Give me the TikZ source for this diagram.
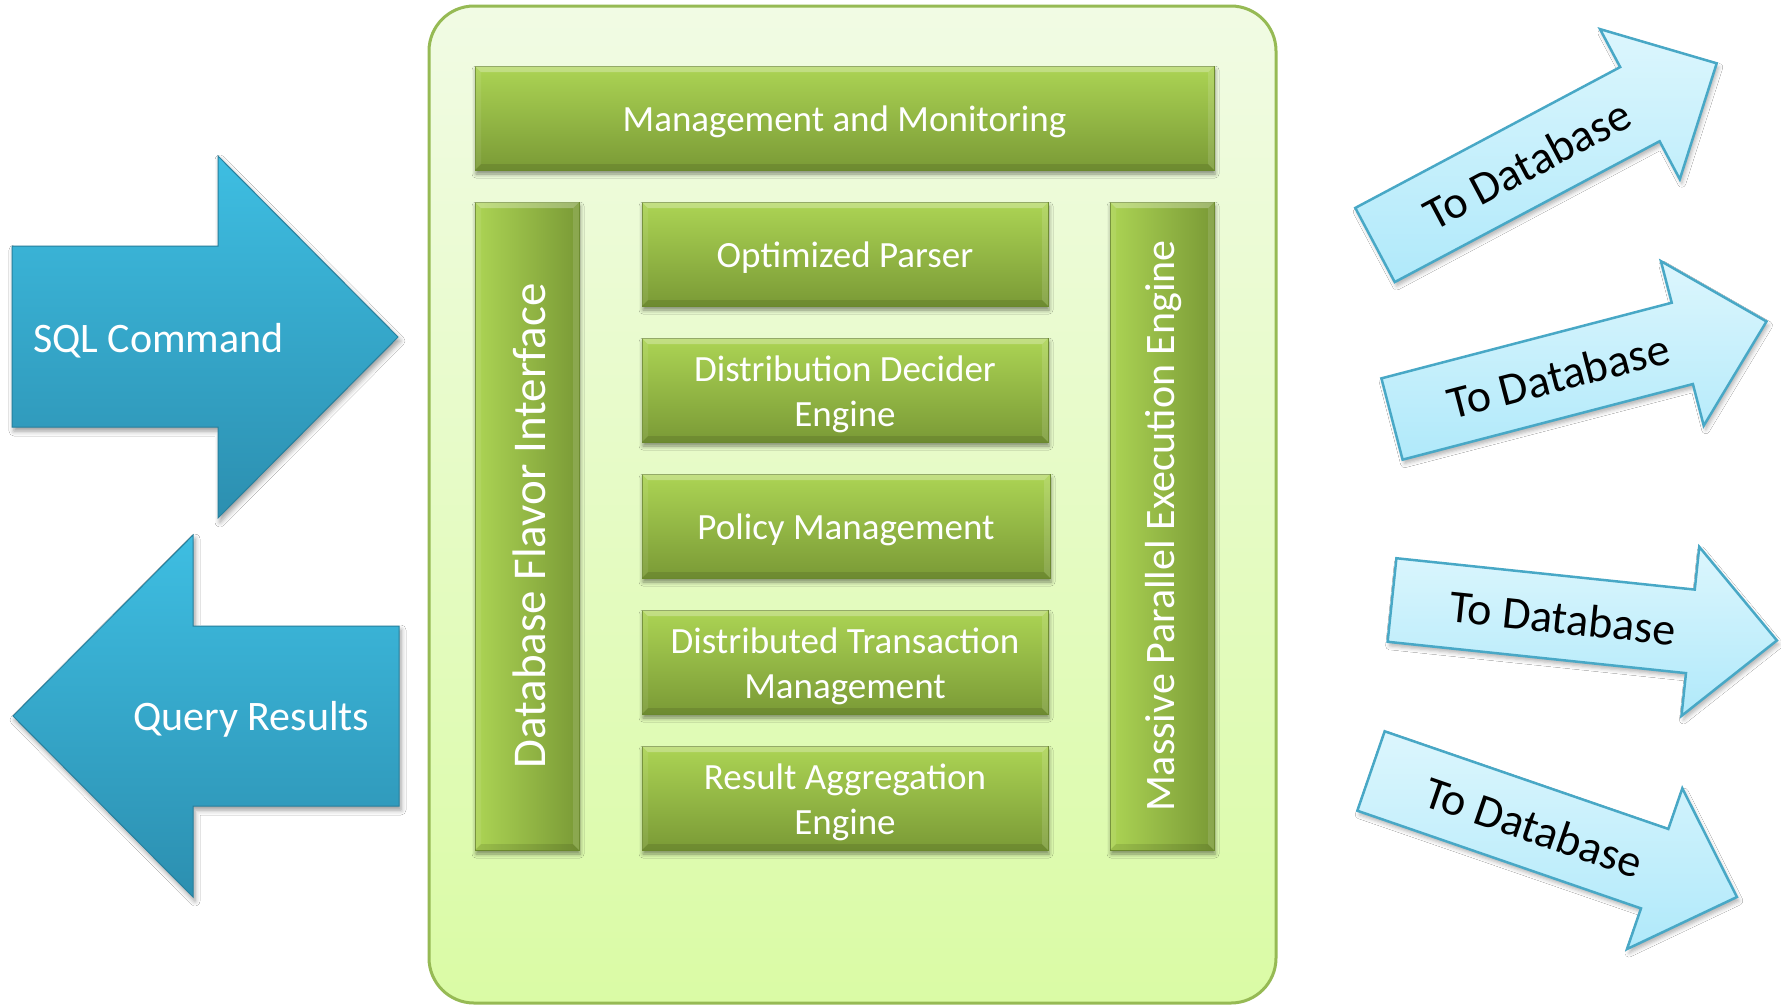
\documentclass[tikz,border=0pt]{standalone}
\usepackage{fontspec}
\setmainfont{Carlito}
\usetikzlibrary{shadows.blur}
\definecolor{ctop}{RGB}{241,251,228}
\definecolor{cbot}{RGB}{218,251,165}
\definecolor{cborder}{RGB}{150,186,84}
\definecolor{gtop}{RGB}{172,212,84}
\definecolor{gbot}{RGB}{122,154,54}
\definecolor{gborder}{RGB}{108,138,46}
\definecolor{btop}{RGB}{62,190,226}
\definecolor{bbot}{RGB}{44,143,176}
\definecolor{bborder}{RGB}{38,128,158}
\definecolor{ltop}{RGB}{220,246,253}
\definecolor{lbot}{RGB}{176,233,250}
\definecolor{lborder}{RGB}{72,168,198}
\tikzset{
  gshape/.style={draw=gborder, line width=1pt, inner sep=0pt,
    blur shadow={shadow xshift=1pt, shadow yshift=-4pt, shadow blur radius=4pt, shadow opacity=45}},
  gbox/.style={gshape, top color=gtop, bottom color=gbot},
  gvbox/.style={gshape, left color=gtop, right color=gbot},
  gtext/.style={text=white, align=center, inner sep=0pt, font=\fontsize{37}{45}\selectfont},
  barrow/.style={draw=bborder, line width=1pt, top color=btop, bottom color=bbot,
    blur shadow={shadow xshift=2pt, shadow yshift=-4pt, shadow blur radius=5pt, shadow opacity=40}},
  btext/.style={text=white, font=\fontsize{42}{50}\selectfont, inner sep=0pt},
  larrow/.style={draw=lborder, line width=2.5pt, line join=miter, top color=ltop, bottom color=lbot,
    blur shadow={shadow xshift=2pt, shadow yshift=-4pt, shadow blur radius=4pt, shadow opacity=30}},
  ltext/.style={text=black, font=\fontsize{46}{54}\selectfont, inner sep=0pt},
}
\newcommand\dbarrow[4]{%
  \begin{scope}[shift={(#1,#2)},rotate=#3]
    \draw[larrow] (0,-42) -- (300,-42) -- (300,-85) -- (387,0) -- (300,85) -- (300,42) -- (0,42) -- cycle;
    \node[ltext, rotate=#3] (#4) at (172,0) {To Database};
  \end{scope}}
\newcommand\gbevel[4]{%
  \fill[white, opacity=.28] (#1,#2) -- (#3,#2) -- (#3-6,#2+6) -- (#1+6,#2+6) -- cycle;
  \fill[white, opacity=.08] (#1,#2) -- (#1+6,#2+6) -- (#1+6,#4-6) -- (#1,#4) -- cycle;
  \fill[black, opacity=.10] (#1,#4) -- (#1+6,#4-6) -- (#3-6,#4-6) -- (#3,#4) -- cycle;
  \fill[white, opacity=.12] (#3,#2) -- (#3-6,#2+6) -- (#3-6,#4-6) -- (#3,#4) -- cycle;}
\begin{document}
\begin{tikzpicture}[x=1pt,y=-1pt]
\useasboundingbox[fill=white] (0,0) rectangle (1781,1005);

% container
\draw[cborder, line width=3pt, top color=ctop, bottom color=cbot, rounded corners=45pt]
  (429,6) rectangle (1276,1003);

% green boxes
\node[gbox, minimum width=739pt, minimum height=104pt] (mm) at (844.5,118) {};
\node[gvbox, minimum width=104pt, minimum height=648pt] (dfi) at (527,526) {};
\node[gvbox, minimum width=104pt, minimum height=648pt] (mpe) at (1162,526) {};
\node[gbox, minimum width=406pt, minimum height=104pt] (op) at (845,254) {};
\node[gbox, minimum width=406pt, minimum height=104pt] (dde) at (845,390) {};
\node[gbox, minimum width=408pt, minimum height=104pt] (pm) at (846,526) {};
\node[gbox, minimum width=406pt, minimum height=104pt] (dtm) at (845,662) {};
\node[gbox, minimum width=406pt, minimum height=104pt] (rae) at (845,798) {};
\gbevel{475}{66}{1214}{170}
\gbevel{475}{202}{579}{850}
\gbevel{1110}{202}{1214}{850}
\gbevel{642}{202}{1048}{306}
\gbevel{642}{338}{1048}{442}
\gbevel{642}{474}{1050}{578}
\gbevel{642}{610}{1048}{714}
\gbevel{642}{746}{1048}{850}

\node[gtext] (mm-t) at ([yshift=-4pt]mm.center) {Management and Monitoring};
\node[gtext, rotate=90, font=\fontsize{47}{55}\selectfont] (dfi-t) at ([xshift=2pt]dfi.center) {Database Flavor Interface};
\node[gtext, rotate=90, font=\fontsize{42}{50}\selectfont] (mpe-t) at ([xshift=2pt]mpe.center) {Massive Parallel Execution Engine};
\node[gtext] (op-t) at ([yshift=-4pt]op.center) {Optimized Parser};
\node[gtext] (dde-t) at ([yshift=-4pt]dde.center) {Distribution Decider\\Engine};
\node[gtext] (pm-t) at ([yshift=-4pt]pm.center) {Policy Management};
\node[gtext] (dtm-t) at ([yshift=-4pt]dtm.center) {Distributed Transaction\\Management};
\node[gtext] (rae-t) at ([yshift=-4pt]rae.center) {Result Aggregation\\Engine};

% blue arrows
\draw[barrow] (12,246) -- (218,246) -- (218,156) -- (398,337) -- (218,518) -- (218,427) -- (12,427) -- cycle;
\node[btext, anchor=base west] (sql) at (33,352) {SQL Command};
\draw[barrow] (399,626) -- (193,626) -- (193,535) -- (13,716) -- (193,897) -- (193,806) -- (399,806) -- cycle;
\node[btext, anchor=base west] (qr) at (133,730) {Query Results};

% light blue arrows
\dbarrow{1375}{245}{28}{db1}
\dbarrow{1392}{419}{14.6}{db2}
\dbarrow{1392}{600}{-6}{db3}
\dbarrow{1371}{771}{-19}{db4}
\end{tikzpicture}
\end{document}
